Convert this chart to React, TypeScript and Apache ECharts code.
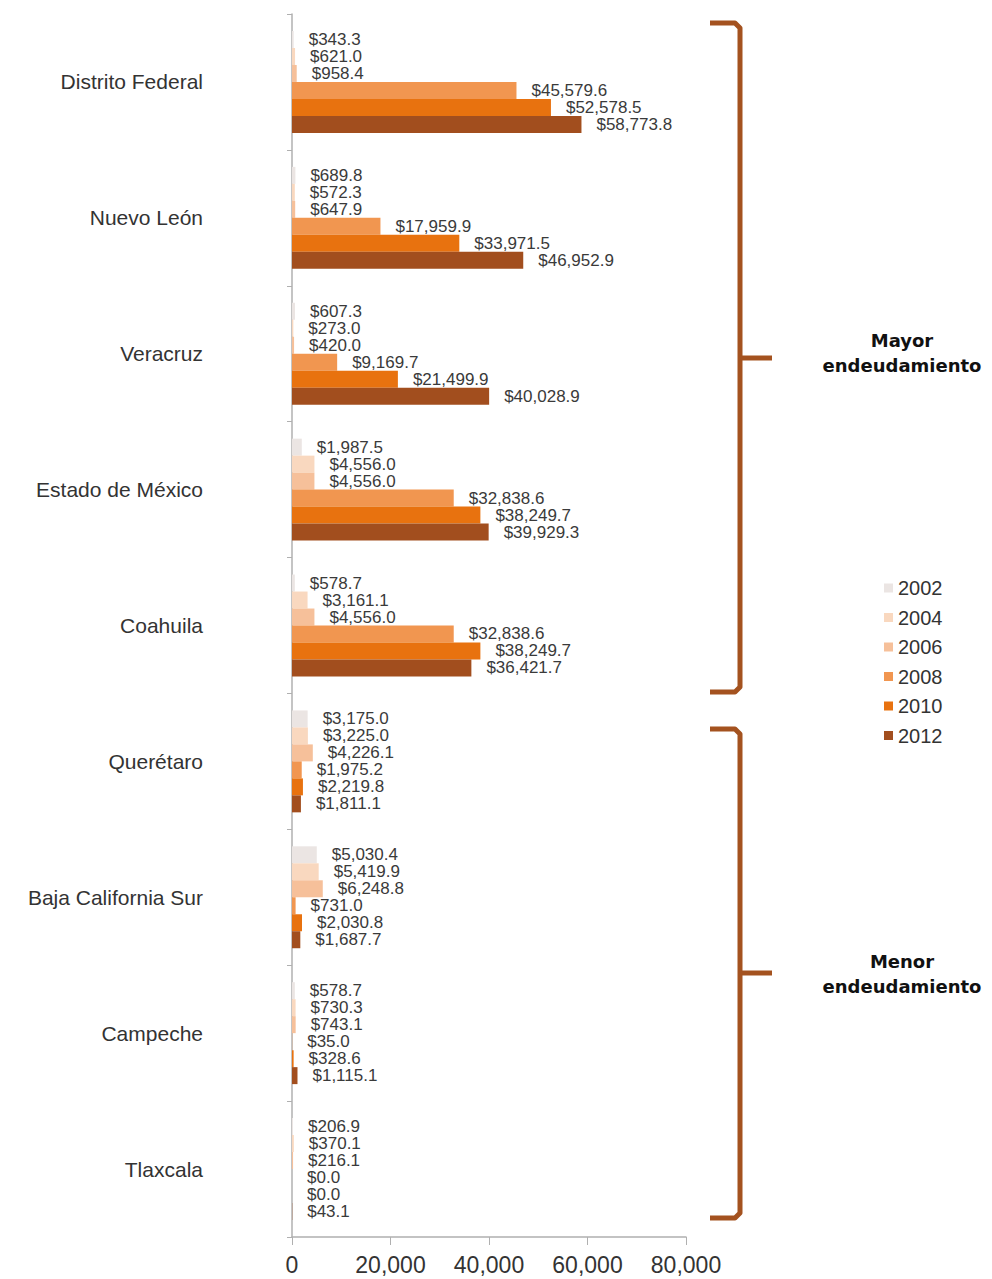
import React, { useEffect, useRef } from "react";
import * as echarts from "echarts";

const categories = [
  "Distrito Federal",
  "Nuevo León",
  "Veracruz",
  "Estado de México",
  "Coahuila",
  "Querétaro",
  "Baja California Sur",
  "Campeche",
  "Tlaxcala",
];

const years = ["2002", "2004", "2006", "2008", "2010", "2012"];

const s2002 = [343.3, 689.8, 607.3, 1987.5, 578.7, 3175.0, 5030.4, 578.7, 206.9];
const s2004 = [621.0, 572.3, 273.0, 4556.0, 3161.1, 3225.0, 5419.9, 730.3, 370.1];
const s2006 = [958.4, 647.9, 420.0, 4556.0, 4556.0, 4226.1, 6248.8, 743.1, 216.1];
const s2008 = [45579.6, 17959.9, 9169.7, 32838.6, 32838.6, 1975.2, 731.0, 35.0, 0.0];
const s2010 = [52578.5, 33971.5, 21499.9, 38249.7, 38249.7, 2219.8, 2030.8, 328.6, 0.0];
const s2012 = [58773.8, 46952.9, 40028.9, 39929.3, 36421.7, 1811.1, 1687.7, 1115.1, 43.1];

const seriesData = [s2002, s2004, s2006, s2008, s2010, s2012];
const colors = ["#ebe5e3", "#f9d8bf", "#f6c09a", "#f19650", "#e8720f", "#a24e1e"];

const xTicks = [0, 20000, 40000, 60000, 80000];

const groupLabels = [
  { text: "Mayor\nendeudamiento" },
  { text: "Menor\nendeudamiento" },
];

const fmtMoney = (v: number) =>
  "$" + v.toLocaleString("en-US", { minimumFractionDigits: 1, maximumFractionDigits: 1 });

export default function App() {
  const ref = useRef<HTMLDivElement>(null);
  useEffect(() => {
    document.body.style.margin = "0";
    if (!ref.current) return;
    const chart = echarts.init(ref.current, undefined, { renderer: "svg" });
    const brown = "#a4521f";
    const bracket = (top: number, mid: number, bottom: number) => [
      {
        type: "polyline",
        shape: {
          points: [
            [710, top],
            [735, top],
            [740, top + 5],
            [740, bottom - 5],
            [735, bottom],
            [710, bottom],
          ],
        },
        style: { stroke: brown, lineWidth: 5, fill: null, lineJoin: "round", lineCap: "butt" },
      },
      {
        type: "line",
        shape: { x1: 740, y1: mid, x2: 772, y2: mid },
        style: { stroke: brown, lineWidth: 5 },
      },
    ];
    chart.setOption({
      animation: false,
      color: colors,
      grid: { left: 292, right: 306, top: 14, bottom: 42, containLabel: false },
      legend: {
        orient: "vertical",
        left: 879,
        top: 573,
        itemWidth: 9,
        itemHeight: 9,
        itemGap: 9.5,
        icon: "rect",
        data: years,
        textStyle: { fontFamily: "Liberation Sans", fontSize: 20, color: "#333" },
      },
      xAxis: {
        type: "value",
        min: xTicks[0],
        max: xTicks[xTicks.length - 1],
        interval: 20000,
        splitLine: { show: false },
        axisLine: { show: true, lineStyle: { color: "#b0b0b0", width: 1.5 } },
        axisTick: { show: true, length: 8, lineStyle: { color: "#b0b0b0" } },
        axisLabel: {
          margin: 16,
          fontFamily: "Liberation Sans",
          fontSize: 23,
          color: "#333",
          formatter: (v: number) => v.toLocaleString("en-US"),
        },
      },
      yAxis: {
        type: "category",
        inverse: true,
        data: categories,
        axisLine: { show: true, lineStyle: { color: "#b0b0b0", width: 1.5 } },
        axisTick: { show: true, length: 5, lineStyle: { color: "#b0b0b0" } },
        axisLabel: {
          margin: 89,
          fontFamily: "Liberation Sans",
          fontSize: 21,
          color: "#333",
        },
      },
      series: seriesData.map((d, i) => ({
        type: "bar",
        name: years[i],
        data: d,
        barGap: "0%",
        barCategoryGap: "25%",
        itemStyle: { color: colors[i] },
        label: {
          show: true,
          position: "right",
          distance: 15,
          fontFamily: "Liberation Sans",
          fontSize: 17,
          lineHeight: 16,
          color: "#3a3a3a",
          formatter: (p: any) => fmtMoney(p.value),
        },
      })),
      graphic: [
        ...bracket(23, 358, 692),
        ...bracket(729, 973, 1218),
        {
          type: "text",
          x: 902,
          y: 328,
          style: {
            text: groupLabels[0].text,
            fontFamily: "DejaVu Sans",
            fontWeight: "bold",
            fontSize: 18,
            lineHeight: 25,
            align: "center",
            fill: "#111",
          },
        },
        {
          type: "text",
          x: 902,
          y: 949,
          style: {
            text: groupLabels[1].text,
            fontFamily: "DejaVu Sans",
            fontWeight: "bold",
            fontSize: 18,
            lineHeight: 25,
            align: "center",
            fill: "#111",
          },
        },
      ],
    });
    return () => chart.dispose();
  }, []);
  return <div ref={ref} style={{ width: 992, height: 1279 }} />;
}
